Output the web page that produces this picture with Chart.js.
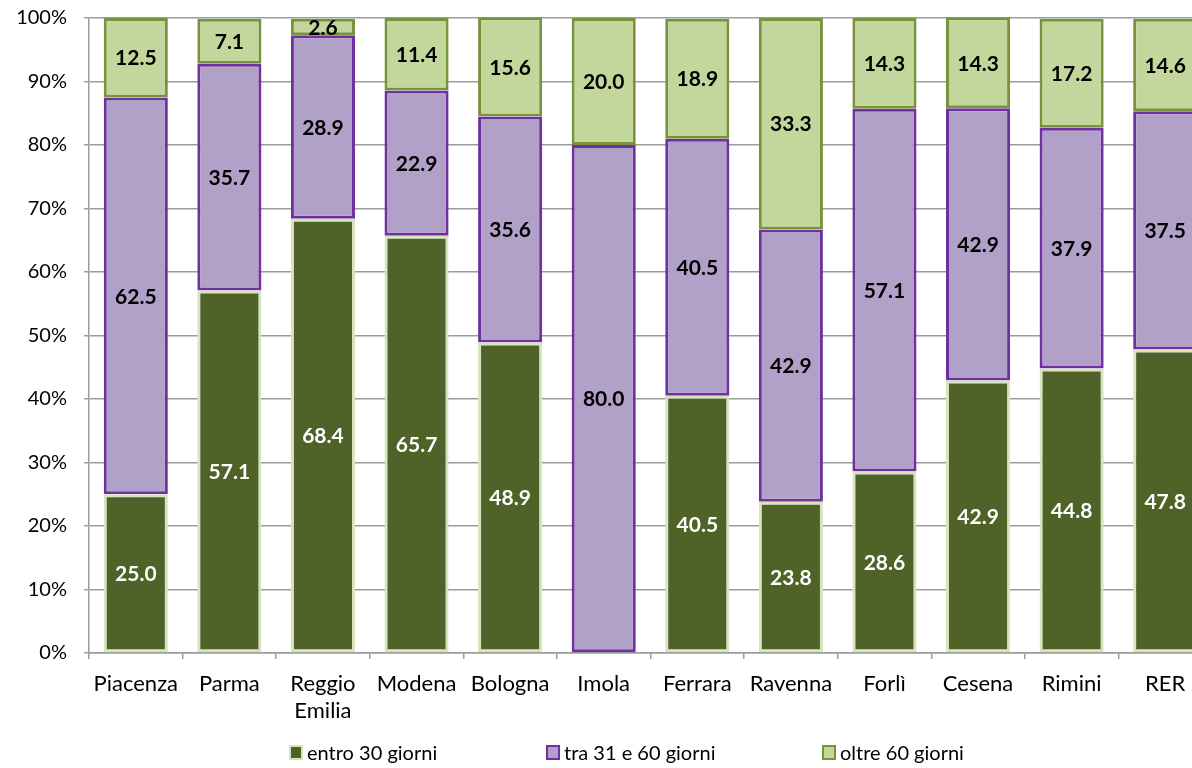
<!DOCTYPE html>
<html lang="it">
  <head>
    <meta charset="UTF-8" />
    <title>Tempi di attesa per distretto</title>
    <style>
      html,
      body {
        margin: 0;
        padding: 0;
        background: #fff;
        overflow: hidden;
      }
      .wrap {
        position: relative;
        width: 1212px;
        height: 768px;
      }
      canvas {
        display: block;
      }
      .legend-item {
        position: absolute;
        top: 740px;
        display: flex;
        align-items: center;
        font-family: Lato, sans-serif;
        font-size: 20px;
        color: #000;
        line-height: 24px;
        white-space: nowrap;
      }
      .legend-box {
        width: 10px;
        height: 11px;
        border: 2px solid;
        margin-right: 4px;
      }
    </style>
  </head>
  <body>
    <div class="wrap">
      <canvas id="attesaChart" width="1212" height="768"></canvas>
      <div id="legend"></div>
    </div>

    <script src="https://cdn.jsdelivr.net/npm/chart.js"></script>
    <script>
      // data (percent of cases)
      const categories = ["Piacenza", "Parma", ["Reggio", "Emilia"], "Modena", "Bologna", "Imola", "Ferrara", "Ravenna", "Forlì", "Cesena", "Rimini", "RER"];
      const entro30 = [25.0, 57.1, 68.4, 65.7, 48.9, 0, 40.5, 23.8, 28.6, 42.9, 44.8, 47.8];
      const tra31e60 = [62.5, 35.7, 28.9, 22.9, 35.6, 80.0, 40.5, 42.9, 57.1, 42.9, 37.9, 37.5];
      const oltre60 = [12.5, 7.1, 2.6, 11.4, 15.6, 20.0, 18.9, 33.3, 14.3, 14.3, 17.2, 14.6];
      const seriesNames = ["entro 30 giorni", "tra 31 e 60 giorni", "oltre 60 giorni"];

      const gridGray = "#9c9c9c";

      // writes the value in the middle of every segment
      const valueLabels = {
        id: "valueLabels",
        afterDatasetsDraw(chart) {
          const ctx = chart.ctx;
          ctx.save();
          ctx.font = "bold 21px Lato";
          ctx.textAlign = "center";
          ctx.textBaseline = "middle";
          chart.data.datasets.forEach((ds, i) => {
            chart.getDatasetMeta(i).data.forEach((bar, j) => {
              const v = ds.data[j];
              if (!v) return;
              ctx.fillStyle = i === 0 ? "#ffffff" : "#000000";
              ctx.fillText(v.toFixed(1), bar.x, (bar.y + bar.base) / 2 + 1);
            });
          });
          ctx.restore();
        },
      };

      const barCommon = {
        borderWidth: 3,
        borderSkipped: false,
        barPercentage: 0.685,
        categoryPercentage: 1,
        clip: false,
      };

      const chart = new Chart(document.getElementById("attesaChart"), {
        type: "bar",
        data: {
          labels: categories,
          datasets: [
            {
              ...barCommon,
              label: seriesNames[0],
              data: entro30,
              backgroundColor: "#4f6228",
              borderColor: "#d7e4bd",
            },
            {
              ...barCommon,
              label: seriesNames[1],
              data: tra31e60,
              backgroundColor: "#b1a0c7",
              borderColor: "#7030a0",
            },
            {
              ...barCommon,
              label: seriesNames[2],
              data: oltre60,
              backgroundColor: "#c3d69b",
              borderColor: "#77933c",
            },
          ],
        },
        options: {
          responsive: false,
          animation: false,
          layout: { padding: { top: 18, left: 0, right: 0, bottom: 0 } },
          scales: {
            x: {
              stacked: true,
              grid: {
                display: true,
                offset: true,
                drawOnChartArea: false,
                tickLength: 6,
                color: gridGray,
                lineWidth: 1.5,
              },
              border: { color: gridGray, width: 1.5 },
              ticks: {
                color: "#000",
                font: { family: "Lato", size: 22, lineHeight: 1.2 },
                padding: 12,
                maxRotation: 0,
                autoSkip: false,
              },
              afterFit(scale) {
                scale.height = 115;
                scale.paddingLeft = 0;
                scale.paddingRight = 0;
              },
            },
            y: {
              stacked: true,
              min: 0,
              max: 100,
              grid: { color: gridGray, lineWidth: 1.5, tickLength: 5 },
              border: { color: gridGray, width: 1.5 },
              ticks: {
                stepSize: 10,
                color: "#000",
                font: { family: "Lato", size: 20 },
                padding: 17,
                callback: (v) => v + "%",
              },
              afterFit(scale) {
                scale.width = 89;
                scale.paddingTop = 0;
                scale.paddingBottom = 0;
              },
            },
          },
          plugins: {
            legend: { display: false },
            tooltip: { enabled: false },
          },
        },
        plugins: [valueLabels],
      });

      // legend below the plot, built from the datasets
      const legendLefts = [289, 546, 822];
      const legendEl = document.getElementById("legend");
      chart.data.datasets.forEach((ds, i) => {
        const item = document.createElement("div");
        item.className = "legend-item";
        item.style.left = legendLefts[i] + "px";
        const box = document.createElement("span");
        box.className = "legend-box";
        box.style.background = ds.backgroundColor;
        box.style.borderColor = ds.borderColor;
        const text = document.createElement("span");
        text.textContent = ds.label;
        item.appendChild(box);
        item.appendChild(text);
        legendEl.appendChild(item);
      });
    </script>
  </body>
</html>
